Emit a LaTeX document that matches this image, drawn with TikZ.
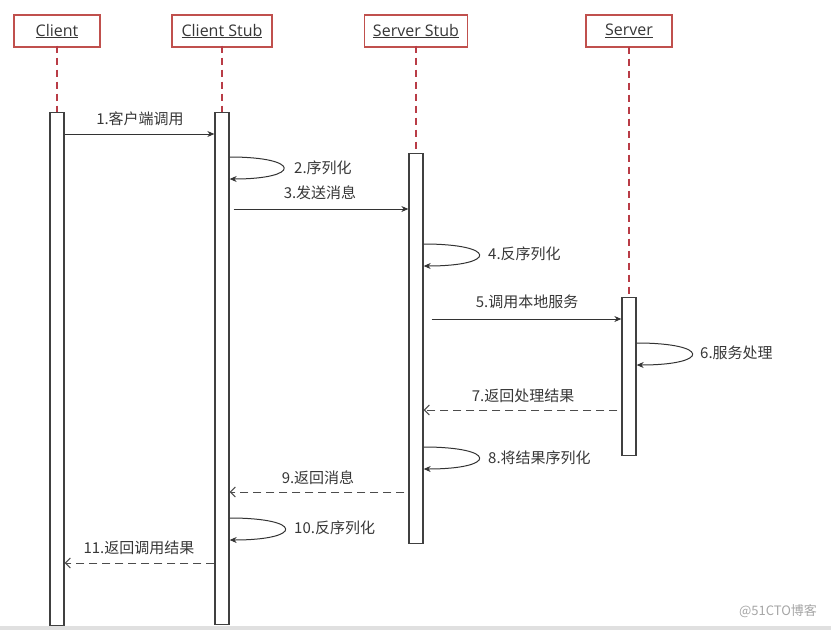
\documentclass[tikz,border=0pt]{standalone}
\usepackage{fontspec}
\newfontfamily\cjk{Noto Sans CJK SC}
\newfontfamily\headfont{Open Sans}
\usetikzlibrary{arrows.meta}
\definecolor{boxred}{RGB}{192,80,77}
\definecolor{linered}{RGB}{185,60,70}
\definecolor{textgray}{RGB}{55,55,55}

\begin{document}
\begin{tikzpicture}[x=1pt,y=-1pt,
  head/.style={draw=boxred, line width=1.3pt, fill=white, minimum height=32pt, inner sep=0pt,
    font=\headfont\fontsize{16}{18}\selectfont, text=textgray},
  life/.style={draw=linered, line width=1.4pt, dash pattern=on 7pt off 5pt},
  bar/.style={draw=black!75, line width=1.3pt, fill=white, minimum width=14pt, inner sep=0pt, anchor=north},
  msg/.style={draw=black!80, line width=1pt, -{Stealth[length=7pt,width=6pt]}},
  reply/.style={draw=black!70, line width=1pt, dash pattern=on 8pt off 5pt, -{Straight Barb[length=5pt,width=10pt]}},
  lbl/.style={font=\cjk\fontsize{15}{17}\selectfont, text=textgray, inner sep=0pt}]

\useasboundingbox (0,0) rectangle (831,630);
\fill[black!12] (0,626) rectangle (831,630);

% heads
\node[head, minimum width=86pt] (client) at (57,31) {\underline{Client}};
\node[head, minimum width=100pt] (cstub) at (222,31) {\underline{Client Stub}};
\node[head, minimum width=103pt] (sstub) at (416,31) {\underline{Server Stub}};
\node[head, minimum width=86pt] (server) at (629,31) {\underline{Server}};

% activation bars
\node[bar, minimum height=513pt] (clientbar) at (57,112) {};
\node[bar, minimum height=512pt] (cstubbar) at (222,112) {};
\node[bar, minimum height=390pt] (sstubbar) at (416,153) {};
\node[bar, minimum height=158pt] (serverbar) at (629,297) {};

% lifelines
\draw[life] ([yshift=2pt]client.south) -- (clientbar.north);
\draw[life] ([yshift=2pt]cstub.south) -- (cstubbar.north);
\draw[life] ([yshift=2pt]sstub.south) -- (sstubbar.north);
\draw[life] ([yshift=1pt]server.south) -- (serverbar.north);

% messages
\draw[msg] (clientbar.east |- 0,134) -- (cstubbar.west |- 0,134);
\draw[msg] (cstubbar.east |- 0,157) .. controls +(72,0) and +(72,0) .. (cstubbar.east |- 0,179);
\draw[msg] ([xshift=4pt]cstubbar.east |- 0,209) -- (sstubbar.west |- 0,209);
\draw[msg] (sstubbar.east |- 0,244) .. controls +(74,0) and +(74,0) .. (sstubbar.east |- 0,266);
\draw[msg] ([xshift=8pt]sstubbar.east |- 0,319) -- (serverbar.west |- 0,319);
\draw[msg] (serverbar.east |- 0,343) .. controls +(74,0) and +(74,0) .. (serverbar.east |- 0,365);
\draw[reply] ([xshift=-4pt]serverbar.west |- 0,410) -- (sstubbar.east |- 0,410);
\draw[msg] (sstubbar.east |- 0,447) .. controls +(74,0) and +(74,0) .. (sstubbar.east |- 0,469);
\draw[reply] ([xshift=-4pt]sstubbar.west |- 0,492) -- (cstubbar.east |- 0,492);
\draw[msg] (cstubbar.east |- 0,518) .. controls +(74,0) and +(74,0) .. (cstubbar.east |- 0,540);
\draw[reply] (cstubbar.west |- 0,563) -- (clientbar.east |- 0,563);

% labels
\node[lbl] (l1) at (140,119) {1.客户端调用};
\node[lbl, anchor=west] (l2) at (294,168) {2.序列化};
\node[lbl] (l3) at (320,193) {3.发送消息};
\node[lbl, anchor=west] (l4) at (488,254) {4.反序列化};
\node[lbl] (l5) at (527,302) {5.调用本地服务};
\node[lbl, anchor=west] (l6) at (700,353) {6.服务处理};
\node[lbl] (l7) at (523,396) {7.返回处理结果};
\node[lbl, anchor=west] (l8) at (488,458) {8.将结果序列化};
\node[lbl] (l9) at (318,478) {9.返回消息};
\node[lbl, anchor=west] (l10) at (294,528) {10.反序列化};
\node[lbl] (l11) at (139,548) {11.返回调用结果};

\node[font=\cjk\fontsize{13}{15}\selectfont, text=black!35, inner sep=0pt] (mark) at (778,611) {@51CTO博客};
\end{tikzpicture}
\end{document}
